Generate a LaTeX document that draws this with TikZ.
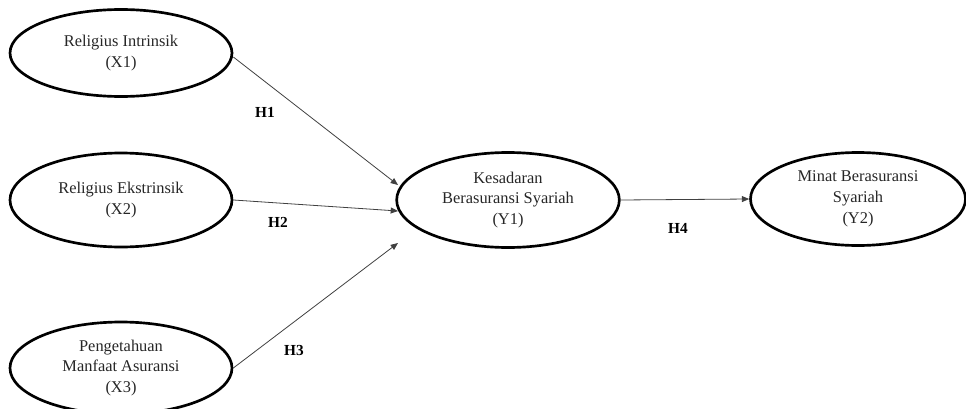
\documentclass[tikz,border=0pt]{standalone}
\usepackage{fontspec}
\setmainfont{Liberation Serif}
\usepackage{tikz}
\usetikzlibrary{shapes.geometric,arrows.meta}

\begin{document}
\begin{tikzpicture}[
    x=0.75pt, y=0.75pt,
    latent/.style={ellipse, draw, line width=2pt, inner sep=0pt,
      align=center, font=\fontsize{12.3}{15.6}\selectfont, text=black!85},
    path/.style={draw=black!75, line width=0.6pt,
      -{Triangle[length=5.5pt,width=4.5pt]}},
    hyp/.style={font=\fontsize{11.5}{13}\selectfont\bfseries},
  ]
  \useasboundingbox (0,0) rectangle (966,408);
  \node[latent, minimum width=166.5pt, minimum height=65.25pt] (x1) at (121,355)
    {Religius Intrinsik\\(X1)};
  \node[latent, minimum width=166.5pt, minimum height=70.5pt] (x2) at (121,208)
    {Religius Ekstrinsik\\(X2)};
  \node[latent, minimum width=166.5pt, minimum height=69pt] (x3) at (121,40)
    {Pengetahuan\\Manfaat Asuransi\\(X3)};
  \node[latent, minimum width=167pt, minimum height=71.25pt] (y1) at (508,208)
    {Kesadaran\\Berasuransi Syariah\\(Y1)};
  \node[latent, minimum width=161.25pt, minimum height=69.75pt] (y2) at (858,209)
    {Minat Berasuransi\\Syariah\\(Y2)};

  \coordinate (e1) at (398,223);
  \coordinate (e2) at (398,197);
  \coordinate (e3) at (398,165);

  \draw[path] ([yshift=-3pt]x1.east) -- (e1);
  \draw[path] (x2.east) -- (e2);
  \draw[path] (x3.east) -- (e3);
  \draw[path] (y1.east) -- (y2.west);

  \node[hyp] (h1) at (265,296) {H1};
  \node[hyp] (h2) at (278,186) {H2};
  \node[hyp] (h3) at (294,58) {H3};
  \node[hyp] (h4) at (678,180) {H4};
\end{tikzpicture}
\end{document}
